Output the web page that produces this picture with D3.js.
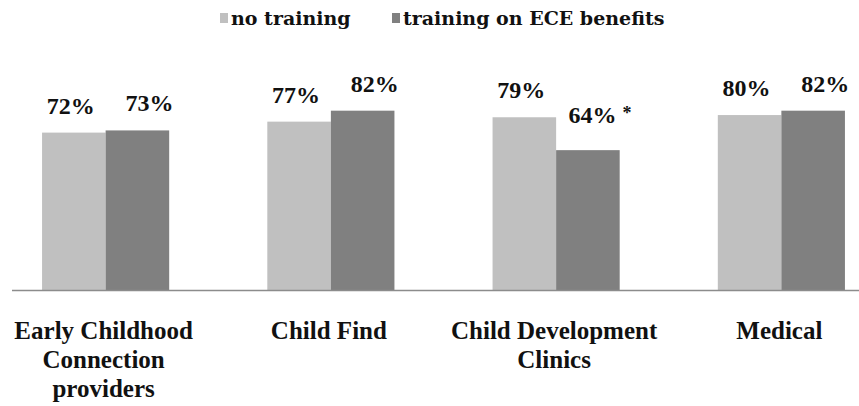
<!DOCTYPE html>
<html>
<head>
<meta charset="utf-8">
<script src="https://cdn.jsdelivr.net/npm/d3@7"></script>
<style>
  html, body { margin: 0; padding: 0; background: #fff; }
  .fig { display: block; }
  .fig .serif-txt { font-family: "Liberation Serif" !important; font-weight: bold; }
  .fig .legend-txt { font-family: "DejaVu Serif" !important; font-weight: bold; }
</style>
</head>
<body>
<svg id="referrals" class="fig" width="859" height="406"></svg>
<script>
// Share of respondents by referral source, split by training group
const categories = [
  ["Early Childhood", "Connection", "providers"],
  ["Child Find"],
  ["Child Development", "Clinics"],
  ["Medical"]
];
const seriesNames = ["no training", "training on ECE benefits"];
const noTraining = [72, 77, 79, 80];
const trainingECE = [73, 82, 64, 82];
const significance = ["", "", "*", ""];
const seriesColors = ["#c0c0c0", "#808080"];

const svg = d3.select("#referrals");
const W = 859;
const baseY = 290.5;

const catKeys = categories.map(d => d.join(" "));
const x0 = d3.scaleBand()
  .domain(catKeys)
  .range([-7, 894])
  .paddingInner(0.4356)
  .paddingOuter(0.2178);
const x1 = d3.scaleBand()
  .domain(seriesNames)
  .range([0, x0.bandwidth()]);
const y = d3.scaleLinear().domain([0, 100]).range([baseY, 71.2]);

const rows = catKeys.map((k, i) => ({
  key: k,
  lines: categories[i],
  values: [
    { s: seriesNames[0], v: noTraining[i], mark: "" },
    { s: seriesNames[1], v: trainingECE[i], mark: significance[i] }
  ]
}));

// Bars
const groups = svg.append("g").selectAll("g")
  .data(rows).join("g")
  .attr("transform", d => `translate(${x0(d.key)},0)`);

groups.selectAll("rect")
  .data(d => d.values).join("rect")
  .attr("x", d => x1(d.s))
  .attr("y", d => y(d.v))
  .attr("width", x1.bandwidth())
  .attr("height", d => baseY - y(d.v))
  .attr("fill", (d, i) => seriesColors[i]);

// Value labels
const vals = groups.selectAll("text.val")
  .data(d => d.values).join("text")
  .attr("class", "val serif-txt")
  .attr("x", (d, i) => x1(d.s) + x1.bandwidth() / 2 + (i === 0 ? -3 : 12))
  .attr("y", d => y(d.v) - (d.mark ? 27 : 19))
  .attr("text-anchor", "middle")
  .style("font-family", '"Liberation Serif"')
  .style("font-weight", "bold")
  .style("font-size", "24px")
  .attr("fill", "#111");
vals.append("tspan").text(d => d.v + "%");
vals.filter(d => d.mark).append("tspan")
  .attr("dx", 6).attr("dy", -4)
  .style("font-size", "18px")
  .text(d => d.mark);

// Category axis line
svg.append("line")
  .attr("x1", 12).attr("x2", W)
  .attr("y1", baseY).attr("y2", baseY)
  .attr("stroke", "#8c8c8c")
  .attr("stroke-width", 1.5);

// Category labels
const catLabels = svg.append("g").selectAll("text")
  .data(rows).join("text")
  .attr("class", "serif-txt")
  .attr("y", 339)
  .attr("text-anchor", "middle")
  .style("font-family", '"Liberation Serif"')
  .style("font-weight", "bold")
  .style("font-size", "25px")
  .attr("fill", "#111");
catLabels.selectAll("tspan")
  .data(d => d.lines.map(t => ({ t, cx: x0(d.key) + x0.bandwidth() / 2 - 2 })))
  .join("tspan")
  .attr("x", d => d.cx)
  .attr("dy", (d, i) => i === 0 ? 0 : 28.8)
  .text(d => d.t);

// Legend
const legendPos = [220, 392];
const legend = svg.append("g").selectAll("g")
  .data(seriesNames).join("g")
  .attr("transform", (d, i) => `translate(${legendPos[i]},0)`);
legend.append("rect")
  .attr("x", 0).attr("y", 13)
  .attr("width", 8).attr("height", 10)
  .attr("fill", (d, i) => seriesColors[i]);
legend.append("text")
  .attr("class", "legend-txt")
  .attr("x", 11).attr("y", 25)
  .style("font-family", '"DejaVu Serif"')
  .style("font-weight", "bold")
  .style("font-size", "19px")
  .attr("fill", "#111")
  .text(d => d);
</script>
</body>
</html>
